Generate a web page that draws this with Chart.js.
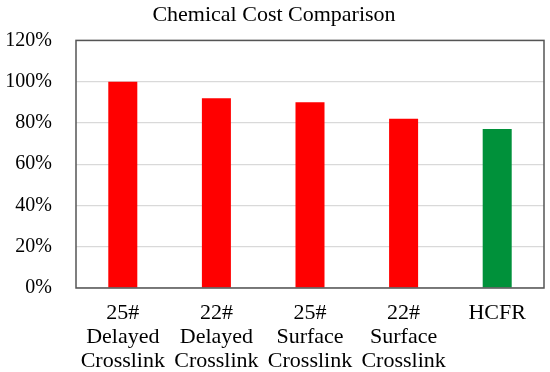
<!DOCTYPE html>
<html>
<head>
<meta charset="utf-8">
<script src="https://cdn.jsdelivr.net/npm/chart.js@4/dist/chart.umd.min.js"></script>
<style>
  html, body { margin: 0; padding: 0; background: #ffffff; }
  #wrap { width: 550px; height: 372px; }
</style>
</head>
<body>
<div id="wrap"><canvas id="costChart" width="550" height="372"></canvas></div>
<script>
  // chart data
  var categories = [
    ["25#", "Delayed", "Crosslink"],
    ["22#", "Delayed", "Crosslink"],
    ["25#", "Surface", "Crosslink"],
    ["22#", "Surface", "Crosslink"],
    ["HCFR"]
  ];
  var costPercent = [100, 92, 90, 82, 77];
  var barColors = ["#ff0000", "#ff0000", "#ff0000", "#ff0000", "#00913a"];
  var yTicks = [0, 20, 40, 60, 80, 100, 120];

  var FONT = "'Liberation Serif', 'DejaVu Serif', serif";

  // frame around the plot area
  var plotFrame = {
    id: "plotFrame",
    afterDraw: function (chart) {
      var a = chart.chartArea;
      var ctx = chart.ctx;
      ctx.save();
      ctx.strokeStyle = "#555555";
      ctx.lineWidth = 1.5;
      ctx.strokeRect(a.left, a.top, a.right - a.left, a.bottom - a.top);
      ctx.restore();
    }
  };

  var ctx = document.getElementById("costChart").getContext("2d");

  new Chart(ctx, {
    type: "bar",
    data: {
      labels: categories,
      datasets: [
        {
          data: costPercent,
          backgroundColor: barColors,
          borderWidth: 0,
          barPercentage: 0.31,
          categoryPercentage: 1.0
        }
      ]
    },
    options: {
      responsive: false,
      animation: false,
      layout: { padding: { left: 4, right: 6, top: 0, bottom: 0 } },
      plugins: {
        legend: { display: false },
        tooltip: { enabled: false },
        title: {
          display: true,
          text: "Chemical Cost Comparison",
          color: "#000000",
          font: { family: FONT, size: 22, weight: "normal" },
          padding: { top: 2, bottom: 12 }
        }
      },
      scales: {
        x: {
          grid: { display: false },
          border: { display: false },
          afterFit: function (axis) {
            axis.height = 84;
            axis.paddingLeft = 0;
            axis.paddingRight = 0;
          },
          ticks: {
            color: "#000000",
            font: { family: FONT, size: 22, lineHeight: 1.1 },
            maxRotation: 0,
            autoSkip: false,
            padding: 5
          }
        },
        y: {
          min: 0,
          max: 120,
          afterBuildTicks: function (axis) {
            axis.ticks = yTicks.map(function (v) { return { value: v }; });
          },
          afterFit: function (axis) {
            axis.width = 72;
          },
          grid: { color: "#d9d9d9", lineWidth: 1.2, drawTicks: false },
          border: { display: false },
          ticks: {
            color: "#000000",
            font: { family: FONT, size: 20 },
            padding: 24,
            callback: function (v) { return v + "%"; }
          }
        }
      }
    },
    plugins: [plotFrame]
  });
</script>
</body>
</html>
